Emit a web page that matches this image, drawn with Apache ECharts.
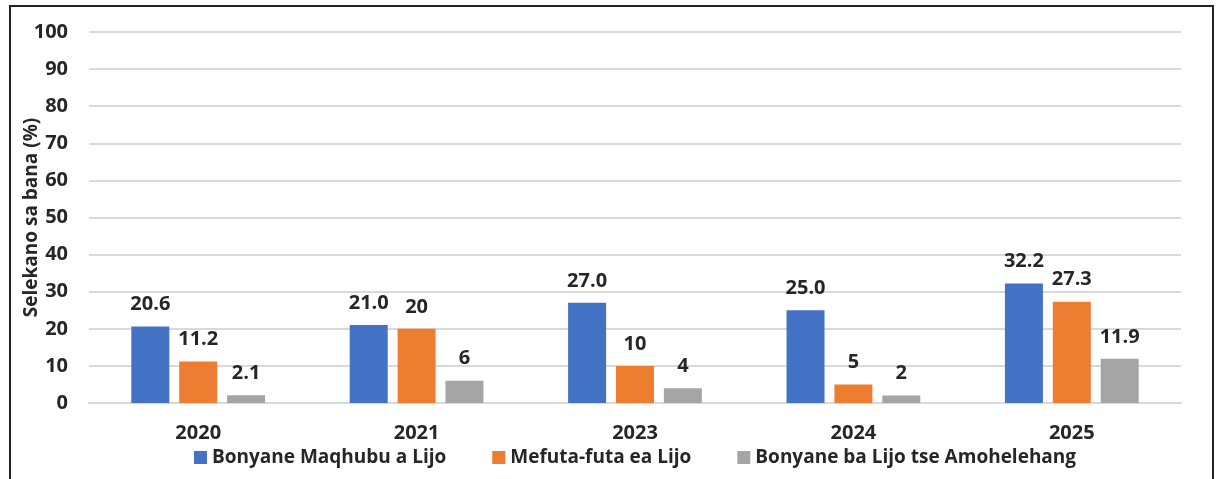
<!DOCTYPE html>
<html>
<head>
<meta charset="utf-8">
<script src="https://cdn.jsdelivr.net/npm/echarts@6/dist/echarts.min.js"></script>
<style>
  html, body { margin: 0; padding: 0; background: #fff; }
  #frame { position: absolute; left: 9px; top: 5px; width: 1205px; height: 480px; border: 2px solid #222; border-bottom: none; box-sizing: border-box; }
  #chart { width: 1216px; height: 479px; position: absolute; left: 0; top: 0; }
</style>
</head>
<body>
<div id="frame"></div>
<div id="chart"></div>
<script>
  var years = ['2020', '2021', '2023', '2024', '2025'];
  var seriesNames = ['Bonyane Maqhubu a Lijo', 'Mefuta-futa ea Lijo', 'Bonyane ba Lijo tse Amohelehang'];
  var maqhubu = [20.6, 21.0, 27.0, 25.0, 32.2];
  var mefuta = [11.2, 20, 10, 5, 27.3];
  var amohelehang = [2.1, 6, 4, 2, 11.9];
  var maqhubuLabels = ['20.6', '21.0', '27.0', '25.0', '32.2'];
  var mefutaLabels = ['11.2', '20', '10', '5', '27.3'];
  var amohelehangLabels = ['2.1', '6', '4', '2', '11.9'];
  var colors = ['#4472C4', '#ED7D31', '#A5A5A5'];

  var myChart = echarts.init(document.getElementById('chart'));
  var font = '"Open Sans", Lato, sans-serif';

  function makeSeries(name, data, labels, color) {
    return {
      name: name,
      type: 'bar',
      barWidth: 38,
      barGap: '26%',
      itemStyle: { color: color },
      label: {
        show: true,
        position: 'top',
        distance: 12,
        color: '#262626',
        fontFamily: font,
        fontWeight: 'bold',
        fontSize: 20,
        formatter: function (p) { return labels[p.dataIndex]; }
      },
      data: data
    };
  }

  myChart.setOption({
    animation: false,
    grid: { left: 89, right: 35, top: 32, bottom: 76, outerBoundsMode: 'none', containLabel: false },
    legend: {
      top: 443,
      left: 189,
      itemWidth: 13,
      itemHeight: 13,
      itemGap: 46,
      itemStyle: { borderWidth: 0 },
      icon: 'rect',
      textStyle: { color: '#262626', fontFamily: font, fontWeight: 'bold', fontSize: 19 },
      data: seriesNames
    },
    xAxis: {
      type: 'category',
      data: years,
      axisLine: { show: true, lineStyle: { color: '#d9d9d9', width: 2 } },
      axisTick: { show: false },
      axisLabel: { color: '#262626', fontFamily: font, fontWeight: 'bold', fontSize: 20, margin: 20 }
    },
    yAxis: {
      type: 'value',
      min: 0,
      max: 100,
      interval: 10,
      name: 'Selekano sa bana (%)',
      nameLocation: 'middle',
      nameRotate: 90,
      nameGap: 48,
      nameMoveOverlap: false,
      nameTextStyle: { color: '#262626', fontFamily: font, fontWeight: 'bold', fontSize: 19 },
      axisLine: { show: false },
      axisTick: { show: false },
      splitLine: { lineStyle: { color: '#d9d9d9', width: 2 } },
      axisLabel: { color: '#262626', fontFamily: font, fontWeight: 'bold', fontSize: 20, margin: 21 }
    },
    series: [
      makeSeries(seriesNames[0], maqhubu, maqhubuLabels, colors[0]),
      makeSeries(seriesNames[1], mefuta, mefutaLabels, colors[1]),
      makeSeries(seriesNames[2], amohelehang, amohelehangLabels, colors[2])
    ]
  });
</script>
</body>
</html>
